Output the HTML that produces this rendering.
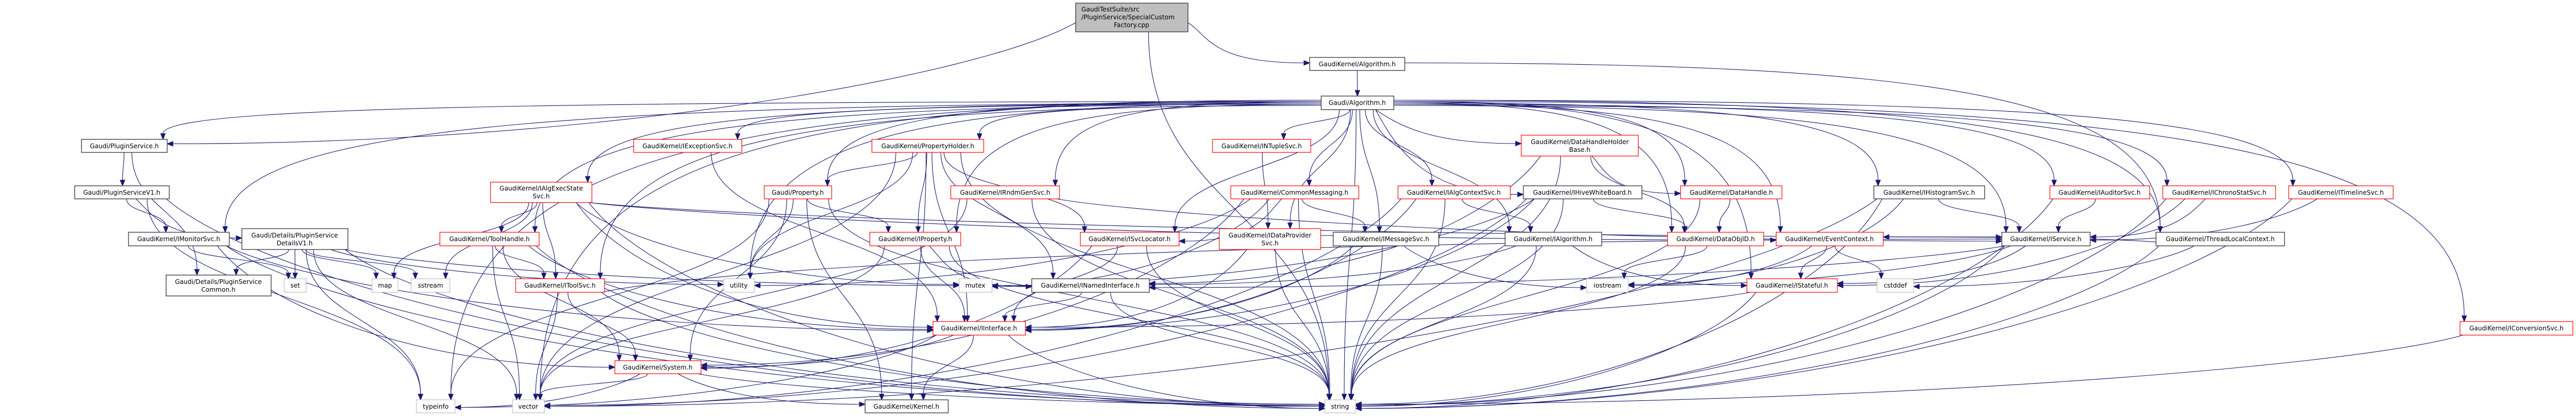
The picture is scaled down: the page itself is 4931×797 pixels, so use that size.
<!DOCTYPE html>
<html><head><meta charset="utf-8"><style>
html,body{margin:0;padding:0;background:#fff;width:4931px;height:797px;overflow:hidden}
svg{display:block}
text{font-family:"DejaVu Sans","Liberation Sans",sans-serif;font-size:12px;fill:#000}
.r{fill:#fff;stroke:#ff0000;stroke-width:1.2}
.b{fill:#fff;stroke:#404040;stroke-width:1.4}
.l{fill:#fff;stroke:#bfbfbf;stroke-width:1.2}
.g{fill:#bfbfbf;stroke:#404040;stroke-width:1.4}
</style></head><body>
<svg id="s" width="4931" height="797" viewBox="0 0 4931 797" xmlns="http://www.w3.org/2000/svg">
<g id="edges" fill="none" stroke="#191970" stroke-width="1.1"></g>
<g id="heads" fill="#191970" stroke="#191970" stroke-width="1"></g>
<g id="nodes">
<rect class="g" x="2059" y="6" width="215" height="55"/>
<text x="2070" y="22">GaudiTestSuite/src</text>
<text x="2070" y="37">/PluginService/SpecialCustom</text>
<text x="2166" y="52" text-anchor="middle">Factory.cpp</text>

<rect class="b" x="2507" y="110" width="182" height="25"/><text x="2598" y="127" text-anchor="middle">GaudiKernel/Algorithm.h</text>
<rect class="b" x="2529" y="184" width="139" height="26"/><text x="2598" y="201" text-anchor="middle">Gaudi/Algorithm.h</text>

<rect class="b" x="156" y="267" width="164" height="25"/><text x="238" y="284" text-anchor="middle">Gaudi/PluginService.h</text>
<rect class="r" x="1213" y="267" width="207" height="25"/><text x="1316" y="284" text-anchor="middle">GaudiKernel/IExceptionSvc.h</text>
<rect class="r" x="1669" y="267" width="214" height="25"/><text x="1776" y="284" text-anchor="middle">GaudiKernel/PropertyHolder.h</text>
<rect class="r" x="2321" y="267" width="188" height="25"/><text x="2415" y="284" text-anchor="middle">GaudiKernel/INTupleSvc.h</text>
<rect class="r" x="2912" y="259" width="224" height="40"/><text x="3024" y="276" text-anchor="middle">GaudiKernel/DataHandleHolder</text><text x="3024" y="291" text-anchor="middle">Base.h</text>

<rect class="b" x="143" y="356" width="181" height="25"/><text x="233" y="373" text-anchor="middle">Gaudi/PluginServiceV1.h</text>
<rect class="r" x="939" y="349" width="194" height="39"/><text x="1036" y="365" text-anchor="middle">GaudiKernel/IAlgExecState</text><text x="1036" y="380" text-anchor="middle">Svc.h</text>
<rect class="r" x="1463" y="356" width="129" height="25"/><text x="1527" y="373" text-anchor="middle">Gaudi/Property.h</text>
<rect class="r" x="1820" y="356" width="208" height="25"/><text x="1924" y="373" text-anchor="middle">GaudiKernel/IRndmGenSvc.h</text>
<rect class="r" x="2356" y="356" width="245" height="25"/><text x="2478" y="373" text-anchor="middle">GaudiKernel/CommonMessaging.h</text>
<rect class="r" x="2676" y="356" width="215" height="25"/><text x="2783" y="373" text-anchor="middle">GaudiKernel/IAlgContextSvc.h</text>
<rect class="b" x="2916" y="356" width="227" height="25"/><text x="3029" y="373" text-anchor="middle">GaudiKernel/IHiveWhiteBoard.h</text>
<rect class="r" x="3217" y="356" width="194" height="25"/><text x="3314" y="373" text-anchor="middle">GaudiKernel/DataHandle.h</text>
<rect class="b" x="3587" y="356" width="212" height="25"/><text x="3693" y="373" text-anchor="middle">GaudiKernel/IHistogramSvc.h</text>
<rect class="r" x="3924" y="356" width="191" height="25"/><text x="4019" y="373" text-anchor="middle">GaudiKernel/IAuditorSvc.h</text>
<rect class="r" x="4140" y="356" width="216" height="25"/><text x="4248" y="373" text-anchor="middle">GaudiKernel/IChronoStatSvc.h</text>
<rect class="r" x="4381" y="356" width="200" height="25"/><text x="4481" y="373" text-anchor="middle">GaudiKernel/ITimelineSvc.h</text>

<rect class="b" x="246" y="445" width="193" height="26"/><text x="342" y="462" text-anchor="middle">GaudiKernel/IMonitorSvc.h</text>
<rect class="b" x="463" y="438" width="203" height="40"/><text x="564" y="455" text-anchor="middle">Gaudi/Details/PluginService</text><text x="564" y="470" text-anchor="middle">DetailsV1.h</text>
<rect class="r" x="842" y="445" width="190" height="26"/><text x="937" y="462" text-anchor="middle">GaudiKernel/ToolHandle.h</text>
<rect class="r" x="1665" y="445" width="174" height="26"/><text x="1752" y="462" text-anchor="middle">GaudiKernel/IProperty.h</text>
<rect class="r" x="2068" y="445" width="189" height="26"/><text x="2162" y="462" text-anchor="middle">GaudiKernel/ISvcLocator.h</text>
<rect class="r" x="2334" y="438" width="194" height="40"/><text x="2431" y="455" text-anchor="middle">GaudiKernel/IDataProvider</text><text x="2431" y="470" text-anchor="middle">Svc.h</text>
<rect class="b" x="2552" y="445" width="202" height="26"/><text x="2653" y="462" text-anchor="middle">GaudiKernel/IMessageSvc.h</text>
<rect class="b" x="2881" y="445" width="185" height="26"/><text x="2973" y="462" text-anchor="middle">GaudiKernel/IAlgorithm.h</text>
<rect class="r" x="3192" y="445" width="184" height="26"/><text x="3284" y="462" text-anchor="middle">GaudiKernel/DataObjID.h</text>
<rect class="r" x="3400" y="445" width="205" height="26"/><text x="3502" y="462" text-anchor="middle">GaudiKernel/EventContext.h</text>
<rect class="b" x="3832" y="445" width="169" height="26"/><text x="3916" y="462" text-anchor="middle">GaudiKernel/IService.h</text>
<rect class="b" x="4127" y="445" width="246" height="26"/><text x="4250" y="462" text-anchor="middle">GaudiKernel/ThreadLocalContext.h</text>

<rect class="b" x="318" y="527" width="201" height="40"/><text x="418" y="544" text-anchor="middle">Gaudi/Details/PluginService</text><text x="418" y="559" text-anchor="middle">Common.h</text>
<rect class="l" x="544" y="534" width="42" height="26"/><text x="565" y="551" text-anchor="middle">set</text>
<rect class="l" x="712" y="534" width="50" height="26"/><text x="737" y="551" text-anchor="middle">map</text>
<rect class="l" x="787" y="534" width="74" height="26"/><text x="824" y="551" text-anchor="middle">sstream</text>
<rect class="r" x="987" y="534" width="170" height="26"/><text x="1072" y="551" text-anchor="middle">GaudiKernel/IToolSvc.h</text>
<rect class="l" x="1385" y="534" width="59" height="26"/><text x="1414" y="551" text-anchor="middle">utility</text>
<rect class="l" x="1836" y="534" width="63" height="26"/><text x="1867" y="551" text-anchor="middle">mutex</text>
<rect class="b" x="1975" y="534" width="225" height="26"/><text x="2087" y="551" text-anchor="middle">GaudiKernel/INamedInterface.h</text>
<rect class="l" x="3037" y="534" width="80" height="26"/><text x="3077" y="551" text-anchor="middle">iostream</text>
<rect class="r" x="3344" y="534" width="173" height="26"/><text x="3430" y="551" text-anchor="middle">GaudiKernel/IStateful.h</text>
<rect class="l" x="3593" y="534" width="70" height="26"/><text x="3628" y="551" text-anchor="middle">cstddef</text>

<rect class="r" x="1786" y="616" width="177" height="26"/><text x="1874" y="633" text-anchor="middle">GaudiKernel/IInterface.h</text>
<rect class="r" x="4709" y="616" width="216" height="26"/><text x="4817" y="633" text-anchor="middle">GaudiKernel/IConversionSvc.h</text>

<rect class="r" x="1177" y="691" width="165" height="25"/><text x="1259" y="708" text-anchor="middle">GaudiKernel/System.h</text>

<rect class="l" x="797" y="766" width="74" height="25"/><text x="834" y="783" text-anchor="middle">typeinfo</text>
<rect class="l" x="981" y="766" width="61" height="25"/><text x="1011" y="783" text-anchor="middle">vector</text>
<rect class="b" x="1656" y="766" width="159" height="25"/><text x="1735" y="783" text-anchor="middle">GaudiKernel/Kernel.h</text>
<rect class="l" x="2536" y="766" width="59" height="25"/><text x="2565" y="783" text-anchor="middle">string</text>
</g>
</svg>
<script>
var N={
top:[2059,6,2274,61],GKA:[2507,110,2689,135],GA:[2529,184,2668,210],
PS:[156,267,320,292],EXC:[1213,267,1420,292],PH:[1669,267,1883,292],NT:[2321,267,2509,292],DHHB:[2912,259,3136,299],
PSV1:[143,356,324,381],AES:[939,349,1133,388],PROP:[1463,356,1592,381],RNDM:[1820,356,2028,381],CM:[2356,356,2601,381],
ACS:[2676,356,2891,381],HWB:[2916,356,3143,381],DH:[3217,356,3411,381],HIST:[3587,356,3799,381],AUD:[3924,356,4115,381],
CHR:[4140,356,4356,381],TL:[4381,356,4581,381],
MON:[246,445,439,471],DV1:[463,438,666,478],TH:[842,445,1032,471],IPROP:[1665,445,1839,471],SVCL:[2068,445,2257,471],
DPS:[2334,438,2528,478],MSG:[2552,445,2754,471],IALG:[2881,445,3066,471],DOID:[3192,445,3376,471],EC:[3400,445,3605,471],
ISVC:[3832,445,4001,471],TLC:[4127,445,4373,471],
COM:[318,527,519,567],set:[544,534,586,560],map:[712,534,762,560],sstream:[787,534,861,560],TSVC:[987,534,1157,560],
utility:[1385,534,1444,560],mutex:[1836,534,1899,560],INI:[1975,534,2200,560],iostream:[3037,534,3117,560],
IST:[3344,534,3517,560],cstddef:[3593,534,3663,560],II:[1786,616,1963,642],CONV:[4709,616,4925,642],
SYS:[1177,691,1342,716],typeinfo:[797,766,871,791],vector:[981,766,1042,791],KER:[1656,766,1815,791],string:[2536,766,2595,791]};
var E=[
['top','PS'],['top','GKA'],['top','string'],['GKA','GA'],['GKA','TLC'],
['GA','PS'],['GA','AES'],['GA','EXC'],['GA','PH'],['GA','PROP'],['GA','RNDM'],['GA','NT'],['GA','CM'],['GA','ACS'],['GA','HWB'],
['GA','DHHB'],['GA','DH'],['GA','HIST'],['GA','AUD'],['GA','CHR'],['GA','TL'],['GA','CONV'],['GA','MON'],['GA','TH'],['GA','TSVC'],
['GA','SVCL'],['GA','DPS'],['GA','MSG'],['GA','IALG'],['GA','DOID'],['GA','EC'],['GA','ISVC'],['GA','TLC'],['GA','string'],['GA','vector'],
['GA','typeinfo'],['GA','utility'],['GA','IPROP'],['GA','IST'],
['PS','PSV1'],['PS','COM'],['PSV1','DV1'],['PSV1','string'],['PSV1','typeinfo'],['PSV1','MON'],
['DV1','COM'],['DV1','set'],['DV1','map'],['DV1','sstream'],['DV1','typeinfo'],['DV1','string'],['DV1','utility'],['DV1','mutex'],['DV1','vector'],
['MON','II'],['MON','set'],['MON','string'],['MON','SYS'],
['AES','map'],['AES','sstream'],['AES','ISVC'],['AES','II'],['AES','string'],['AES','EC'],['AES','TH'],['AES','TSVC'],['AES','mutex'],
['TH','TSVC'],['TH','II'],['TH','string'],['TH','vector'],['TH','SYS'],
['TSVC','ISVC'],['TSVC','SYS'],['TSVC','vector'],['TSVC','string'],
['EXC','II'],
['PH','PROP'],['PH','IPROP'],['PH','INI'],['PH','II'],['PH','SVCL'],['PH','string'],['PH','vector'],['PH','utility'],['PH','KER'],
['PROP','IPROP'],['PROP','KER'],['PROP','utility'],['PROP','typeinfo'],['PROP','string'],['PROP','SYS'],
['IPROP','II'],['IPROP','INI'],['IPROP','string'],['IPROP','vector'],
['SVCL','II'],['SVCL','string'],['SVCL','SYS'],
['INI','II'],['INI','string'],
['II','KER'],['II','SYS'],['II','typeinfo'],['II','string'],
['SYS','KER'],['SYS','string'],['SYS','vector'],['SYS','typeinfo'],
['RNDM','ISVC'],['RNDM','vector'],['RNDM','string'],
['NT','DPS'],
['CM','MSG'],['CM','SVCL'],['CM','SYS'],['CM','string'],['CM','utility'],['CM','mutex'],
['ACS','II'],['ACS','IALG'],['ACS','string'],['ACS','vector'],
['HWB','II'],['HWB','DOID'],['HWB','string'],['HWB','vector'],['HWB','mutex'],
['DHHB','DH'],['DHHB','DOID'],['DHHB','INI'],['DHHB','string'],
['DH','DOID'],['DH','string'],
['HIST','ISVC'],['HIST','string'],['HIST','iostream'],['HIST','vector'],
['AUD','ISVC'],['AUD','string'],
['CHR','ISVC'],['CHR','string'],['CHR','IST'],
['TL','ISVC'],['TL','string'],
['CONV','string'],
['DPS','II'],['DPS','string'],
['MSG','II'],['MSG','iostream'],['MSG','string'],
['IALG','INI'],['IALG','IST'],['IALG','string'],
['DOID','iostream'],['DOID','string'],
['EC','cstddef'],['EC','iostream'],['EC','IST'],
['ISVC','INI'],['ISVC','IST'],['ISVC','string'],['ISVC','iostream'],
['TLC','cstddef'],['TLC','string'],['TLC','EC'],
['IST','II'],['IST','string']
];
var eg=document.getElementById('edges'),hg=document.getElementById('heads'),ns='http://www.w3.org/2000/svg';
function cx(n){return (n[0]+n[2])/2}
var sideCount={};
E.forEach(function(e,i){
 var s=N[e[0]],t=N[e[1]];if(!s||!t)return;
 var scx=cx(s),tcx=cx(t);
 var sx=scx+(tcx-scx)*0.08; sx=Math.max(s[0]+6,Math.min(s[2]-6,sx));
 var sy=s[3], d, hx, hy, ang;
 var L=11;
 var fromSide=(e[0]=='GA'||e[0]=='GKA')&&Math.abs(tcx-scx)>450;
 if(fromSide){
   var sg=tcx>scx?1:-1;
   var key=e[0]+sg; sideCount[key]=(sideCount[key]||0)+1;
   sx=sg>0?s[2]:s[0]; sy=s[1]+8+(sideCount[key]%5)*2.5;
 }
 var dx=tcx-sx, dy=t[1]-sy;
 if(Math.abs(dx)>2.6*dy && Math.abs(dx)>250 && !fromSide){
   var sign=dx>0?1:-1;
   var tx=sign>0?t[0]:t[2]; var ty=(t[1]+t[3])/2+((i%5)-2)*2;
   if(e[0]=='top'){sx=sign>0?s[2]:s[0];sy=(s[1]+s[3])/2+10;}
   var ex=tx-sign*L;
   d='M'+sx+','+sy+' C'+(sx+dx*0.1)+','+(sy+dy*0.5)+' '+(ex-sign*Math.abs(dx)*0.45)+','+ty+' '+ex+','+ty;
   hx=tx;hy=ty;ang=sign>0?0:Math.PI;
 } else {
   var tx=tcx+(sx-tcx)*0.25; tx=Math.max(t[0]+8,Math.min(t[2]-8,tx));
   var ty=t[1]; var ey=ty-L;
   if(fromSide){
     var adx=Math.abs(tx-sx);
     d='M'+sx+','+sy+' C'+(sx+(tx-sx)*0.7)+','+sy+' '+tx+','+(sy+(ey-sy)*0.2)+' '+tx+','+ey;
   } else {
     var k=Math.max(20,(ey-sy)*0.5);
     d='M'+sx+','+sy+' C'+sx+','+(sy+k)+' '+tx+','+(ey-k)+' '+tx+','+ey;
   }
   hx=tx;hy=ty;ang=Math.PI/2;
 }
 var p=document.createElementNS(ns,'path');p.setAttribute('d',d);eg.appendChild(p);
 var c=Math.cos(ang),sn=Math.sin(ang),w=4.5;
 var bx=hx-c*L,by=hy-sn*L;
 var pts=[hx,hy,bx-sn*w,by+c*w,bx+sn*w,by-c*w];
 var h=document.createElementNS(ns,'polygon');h.setAttribute('points',pts.join(' '));hg.appendChild(h);
});
</script>
</body></html>
